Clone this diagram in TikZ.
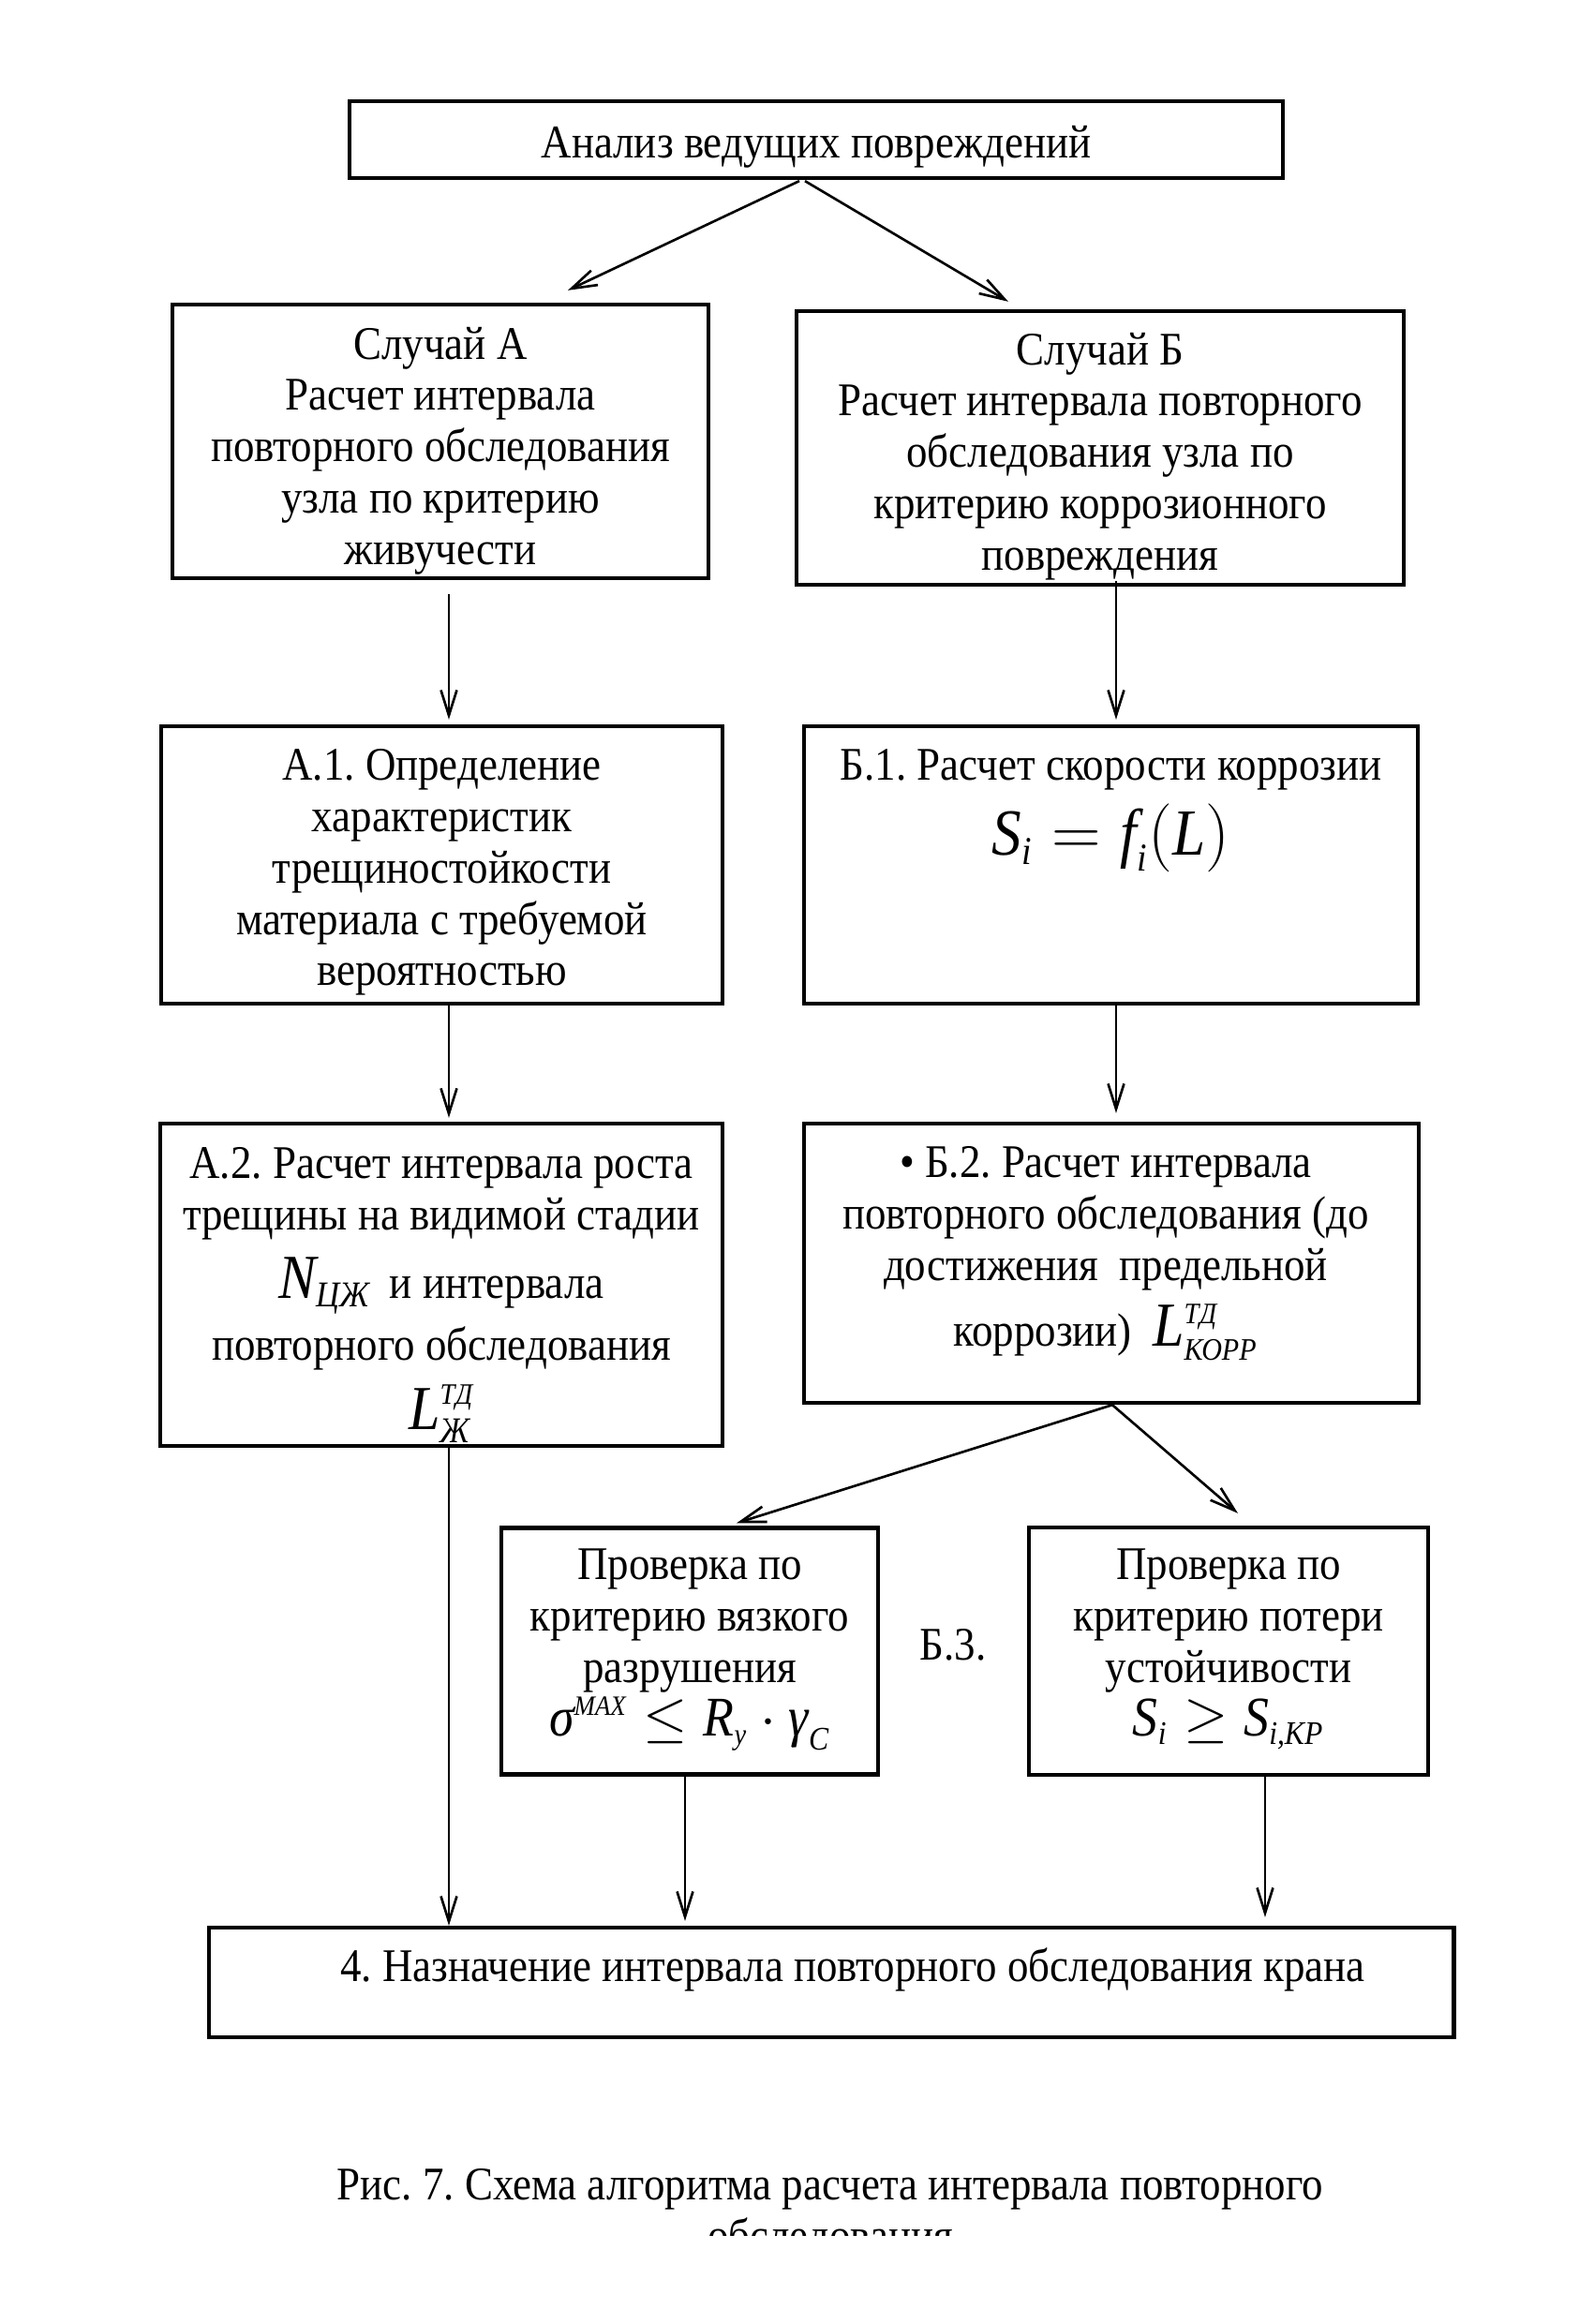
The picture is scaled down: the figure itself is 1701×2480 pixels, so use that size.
\documentclass[tikz,border=0pt]{standalone}
\usepackage{fontspec}
\usepackage{amsmath}
\setmainfont{Liberation Serif}[FakeStretch=0.9]
\usetikzlibrary{arrows.meta,calc}
\newcommand{\itl}[1]{\textit{#1}}
\newcommand{\scr}[2][9.5]{\text{\fontsize{#1}{#1}\selectfont\itshape #2}}
\newcommand{\bigf}{\fontsize{19}{20}\selectfont}
\frenchspacing
\begin{document}
\begin{tikzpicture}[x=0.01cm,y=-0.01cm,
  box/.style={draw, line width=1.2pt, inner sep=0pt},
  txt/.style={align=center, font=\fontsize{14.2}{15.6}\selectfont, inner sep=0pt},
  arr/.style={line width=0.75pt, -{Straight Barb[length=0.27cm,width=0.17cm]}}]
\useasboundingbox[fill=white] (0,0) rectangle (1701,2480);

% boxes
\node[box, minimum width=9.96cm, minimum height=0.82cm] (top) at (871,149) {};
\node[box, minimum width=5.72cm, minimum height=2.92cm] (A) at (470,471) {};
\node[box, minimum width=6.48cm, minimum height=2.92cm] (B) at (1174,478) {};
\node[box, minimum width=5.99cm, minimum height=2.96cm] (A1) at (471.5,923) {};
\node[box, minimum width=6.55cm, minimum height=2.96cm] (B1) at (1185.5,923) {};
\node[box, minimum width=6.00cm, minimum height=3.44cm] (A2) at (471,1371) {};
\node[box, minimum width=6.56cm, minimum height=2.98cm] (B2) at (1186,1348) {};
\node[box, minimum width=4.02cm, minimum height=2.63cm] (C1) at (736,1762) {};
\node[box, minimum width=4.26cm, minimum height=2.64cm] (C2) at (1311,1762) {};
\node[box, minimum width=13.28cm, minimum height=1.17cm] (F) at (887,2115.5) {};

% texts
\node[txt] (ttop) at (871,157) {Анализ ведущих повреждений};
\node[txt] (tA) at (470,481) {Случай А\\Расчет интервала\\повторного обследования\\узла по критерию\\живучести};
\node[txt] (tB) at (1174,487) {Случай Б\\Расчет интервала повторного\\обследования узла по\\критерию коррозионного\\повреждения};
\node[txt] (tA1) at (471.5,931) {А.1. Определение\\характеристик\\трещиностойкости\\материала с требуемой\\вероятностью};
\node[txt, anchor=north] (tB1) at (1185.5,799) {Б.1. Расчет скорости коррозии\\[3pt]
  {\fontsize{20}{22}\selectfont $\itl{S}_{\scr[12]{i}} = \itl{f}_{\scr[12]{i}}(\itl{L})$}};
\node[txt, anchor=north] (tA2) at (471,1224) {А.2. Расчет интервала роста\\трещины на видимой стадии\\[5pt]
  \smash{\bigf$\itl{N}_{\scr[11]{ЦЖ}}$}\, и интервала\\[3.3pt]повторного обследования\\[5.5pt]
  \smash{\bigf$\itl{L}^{\scr[9]{ТД}}_{\scr[11]{Ж}}$}};
\node[txt, anchor=north] (tB2) at (1180,1223) {• Б.2. Расчет интервала\\повторного обследования (до\\достижения~~предельной\\[4.3pt]
  коррозии)~ \smash{\bigf$\itl{L}^{\scr[9]{ТД}}_{\scr{КОРР}}$}};
\node[txt, anchor=north] (tC1) at (736,1652) {Проверка по\\критерию вязкого\\разрушения\\[0.8pt]
  \smash{\fontsize{17}{18}\selectfont$\itl{σ}^{\scr[8.5]{MAX}} \le \itl{R}_{\scr[9]{y}}\cdot\itl{γ}_{\scr[10]{C}}$}};
\node[txt, anchor=north] (tC2) at (1311,1652) {Проверка по\\критерию потери\\устойчивости\\[0.6pt]
  \smash{\fontsize{17}{18}\selectfont$\itl{S}_{\scr[10]{i}} \ge \itl{S}_{\scr[10]{i,КР}}$}};
\node[txt] (tB3) at (1017,1755) {Б.3.};
\node[txt] (tF) at (910,2102) {4. Назначение интервала повторного обследования крана};

% caption
\node[txt, anchor=base] (cap1) at (886,2347) {Рис. 7. Схема алгоритма расчета интервала повторного};
\begin{scope}
  \clip (0,0) rectangle (1701,2385);
  \node[txt, anchor=base] (cap2) at (886,2402) {обследования};
\end{scope}

% connectors
\draw[arr] ($(top.south)+(-18,1)$) -- ($(A.north)+(136,-13)$);
\draw[arr] ($(top.south)+(-12,1)$) -- ($(B.north)+(-98,-8)$);
\draw[arr] ($(A.south)+(9,15)$) -- ($(A1.north)+(7.5,-5)$);
\draw[arr] ($(B.south)+(17,-6)$) -- ($(B1.north)+(5.5,-5)$);
\draw[arr] ($(A1.south)+(7.5,0)$) -- ($(A2.north)+(8,-4)$);
\draw[arr] ($(B1.south)+(5.5,0)$) -- ($(B2.north)+(5,-9)$);
\draw[arr] ($(B2.south)+(1,0)$) -- ($(C1.north)+(50,-3)$);
\draw[arr] ($(B2.south)+(1,0)$) -- ($(C2.north)+(10,-13)$);
\draw[arr] ($(A2.south)+(8,0)$) -- ($(F.north)+(-408,0)$);
\draw[arr] ($(C1.south)+(-5,0)$) -- ($(F.north)+(-156,-5)$);
\draw[arr] ($(C2.south)+(39,0)$) -- ($(F.north)+(463,-9)$);
\end{tikzpicture}
\end{document}
